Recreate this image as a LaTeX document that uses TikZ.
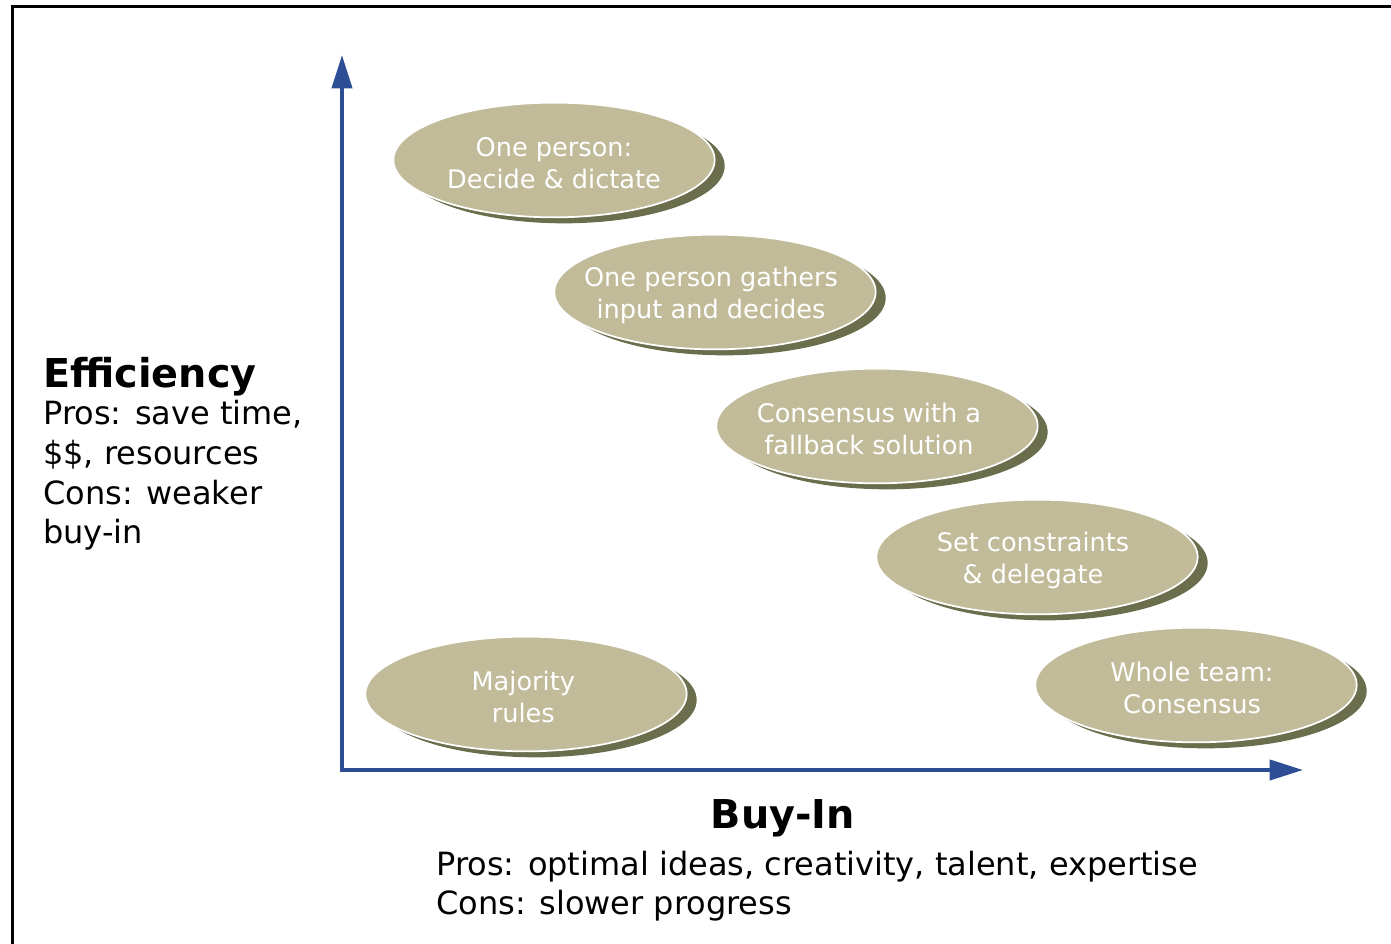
\documentclass[tikz,border=0pt]{standalone}
\usepackage{fontspec}
\setmainfont{DejaVu Sans}
\usetikzlibrary{arrows.meta,shapes.geometric,shadows}
\definecolor{axisblue}{HTML}{2D4D94}
\definecolor{pill}{HTML}{C1BB99}
\definecolor{pillshade}{HTML}{6B6E4C}
\begin{document}
\begin{tikzpicture}[x=0.75pt,y=-0.75pt,
  axis/.style={draw=axisblue, line width=3pt, miter limit=10,
    {Triangle[width=15pt,length=25pt]}-{Triangle[width=15pt,length=25pt]}},
  choice/.style={ellipse, fill=pill, draw=white, line width=1.3pt,
    inner sep=0pt, minimum width=241pt, minimum height=86pt,
    general shadow={fill=pillshade, draw=none,
      shadow xshift=7.5pt, shadow yshift=-4.5pt}},
  choicetext/.style={text=white, align=center, inner sep=0pt,
    font=\fontsize{19.2pt}{24pt}\selectfont},
  heading/.style={font=\bfseries\fontsize{29.8pt}{36pt}\selectfont, inner sep=0pt},
  body/.style={font=\fontsize{24pt}{29.5pt}\selectfont, inner sep=0pt, anchor=base west}]
\useasboundingbox (0,0) rectangle (1391,944);
\clip (0,0) rectangle (1391,944);

% outer frame, running off the right and bottom edges
\draw[line width=2.25pt] (12,6.5) rectangle (1430,990);

% axes
\coordinate (ytip) at (342,55);
\coordinate (origin) at (342,770);
\coordinate (xtip) at (1303,770);
\draw[axis] (ytip) -- (origin) -- (xtip);

% decision styles: the ovals
\node[choice] (dictate)   at (554,160) {};
\node[choice] (gathers)   at (715,292) {};
\node[choice] (fallback)  at (877,426) {};
\node[choice] (delegate)  at (1037,557) {};
\node[choice] (consensus) at (1196,685) {};
\node[choice] (majority)  at (526,694) {};

% ... and their captions, set a little below centre
\node[choicetext] (dictatetext)   at ([yshift=-2.5pt]dictate.center)   {One person:\\Decide \& dictate};
\node[choicetext] (gatherstext)   at ([xshift=-3pt,yshift=-2.5pt]gathers.center)   {One person gathers\\input and decides};
\node[choicetext] (fallbacktext)  at ([xshift=-6pt,yshift=-2.5pt]fallback.center)  {Consensus with a\\fallback solution};
\node[choicetext] (delegatetext)  at ([xshift=-3pt,yshift=-2.5pt]delegate.center)  {Set constraints\\\& delegate};
\node[choicetext] (consensustext) at ([xshift=-3pt,yshift=-2.5pt]consensus.center) {Whole team:\\Consensus};
\node[choicetext] (majoritytext)  at ([xshift=-2pt,yshift=-2.5pt]majority.center)  {Majority\\rules};

% vertical axis label
\node[heading, anchor=base west] (efficiency) at (43,388) {Efficiency};
\node[body] (effpro1) at (43,425) {Pros: save time,};
\node[body] (effpro2) at (43,464.5) {\$\$, resources};
\node[body] (effcon1) at (43,504) {Cons: weaker};
\node[body] (effcon2) at (43,543) {buy-in};

% horizontal axis label
\node[heading, anchor=base] (buyin) at (783,828) {Buy-In};
\node[body] (buypro) at (436,875) {Pros: optimal ideas, creativity, talent, expertise};
\node[body] (buycon) at (436,914) {Cons: slower progress};
\end{tikzpicture}
\end{document}
